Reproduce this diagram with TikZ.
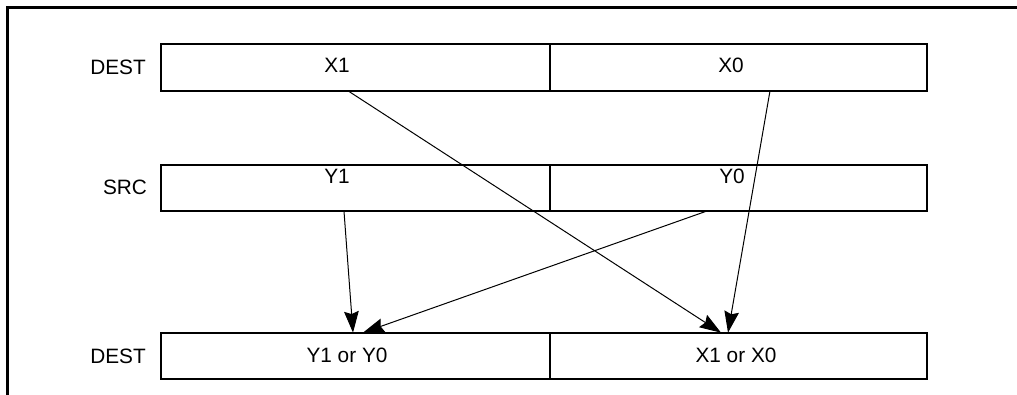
\documentclass[tikz,border=0pt]{standalone}
\usepackage{fontspec}
\setmainfont{Liberation Sans}
\usetikzlibrary{arrows.meta}
\begin{document}
\begin{tikzpicture}[x=0.75pt,y=-0.75pt,
  cell/.style={draw, line width=1.5pt, minimum height=35pt, inner sep=0pt, outer sep=0pt},
  lcell/.style={cell, minimum width=291.75pt},
  rcell/.style={cell, minimum width=282.75pt},
  txt/.style={inner sep=0pt, font=\fontsize{15.6pt}{18pt}\selectfont},
  arr/.style={line width=0.75pt, -{Stealth[length=16pt,width=11pt,inset=2pt]}},
  frame/.style={line width=2.25pt}]
\useasboundingbox (0,0) rectangle (1017,395);
\draw[frame] (7.5,400) -- (7.5,7.5) -- (1020,7.5);
% DEST row
\node[lcell] (x1) at (355.5,67.5) {};
\node[rcell] (x0) at (738.5,67.5) {};
\node[txt] (x1t) at (337,65) {X1};
\node[txt] (x0t) at (731,65) {X0};
\node[txt] (destA) at (118,67) {DEST};
% SRC row
\node[lcell] (y1) at (355.5,188) {};
\node[rcell] (y0) at (738.5,188) {};
\node[txt] (y1t) at (337,176) {Y1};
\node[txt] (y0t) at (732,176) {Y0};
\node[txt] (src) at (125,187) {SRC};
% result row
\node[lcell] (r1) at (355.5,356) {};
\node[rcell] (r0) at (738.5,356) {};
\node[txt] (r1t) at (347,355) {Y1 or Y0};
\node[txt] (r0t) at (736,355) {X1 or X0};
\node[txt] (destB) at (118,356) {DEST};
% connectors
\draw[arr] (348,0 |- x1.south) -- (721,0 |- r0.north);
\draw[arr] (770,0 |- x0.south) -- (728,0 |- r0.north);
\draw[arr] (344,0 |- y1.south) -- (353,0 |- r1.north);
\draw[arr] (706,0 |- y0.south) -- (363,0 |- r1.north);
\end{tikzpicture}
\end{document}
